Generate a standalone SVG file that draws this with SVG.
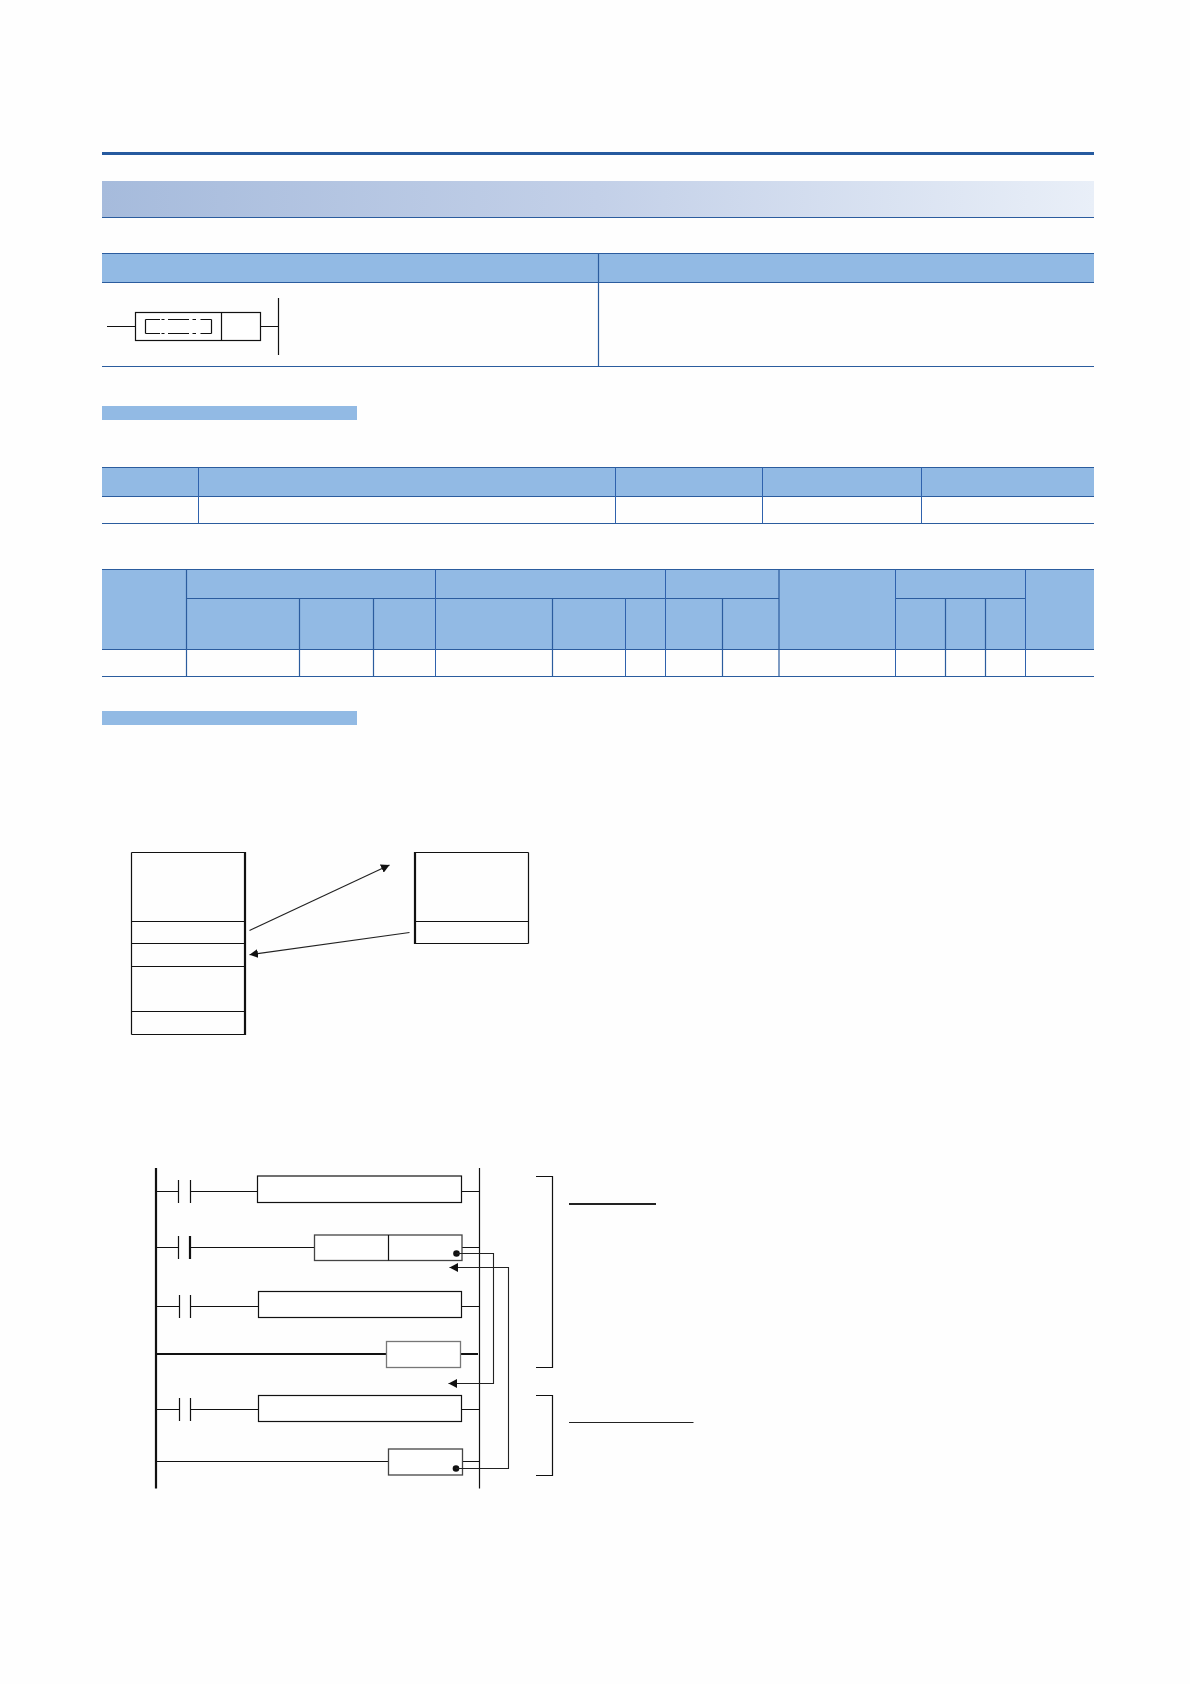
<svg xmlns="http://www.w3.org/2000/svg" width="1190" height="1684" viewBox="0 0 1190 1684">
<style>
.hdr{fill:#92bae4}
.tb{stroke:#2b5c9e;stroke-width:1.2;fill:none}
.tn{stroke:#2f62ad;stroke-width:1;fill:none}
.k{stroke:#111;stroke-width:1.2;fill:none}
.kt{stroke:#111;stroke-width:2.2;fill:none}
.box{stroke:#111;stroke-width:1.2;fill:#fff}
.gbox{stroke:#777;stroke-width:1.3;fill:#fff}
.dbox{stroke:#444;stroke-width:1.3;fill:#fff}
.c{stroke:#222;stroke-width:1.1;fill:none}
.dot{fill:#111}
</style>
<defs>
<linearGradient id="band" x1="0" y1="0" x2="1" y2="0">
<stop offset="0" stop-color="#a6bbdc"/>
<stop offset="0.5" stop-color="#c3d0e8"/>
<stop offset="1" stop-color="#e9eff8"/>
</linearGradient>
<marker id="arrow" markerUnits="userSpaceOnUse" markerWidth="9" markerHeight="9" refX="8.5" refY="4.5" orient="auto">
<path d="M0,0 L8.5,4.5 L0,9 Z" fill="#111"/>
</marker>
</defs>
<rect width="1190" height="1684" fill="#fefefe"/>

<g id="page-header">
<rect x="102" y="152" width="992" height="3" fill="#265a9f"/>
<rect x="102" y="181" width="992" height="36" fill="url(#band)"/>
<line x1="102" y1="217.5" x2="1094" y2="217.5" stroke="#2b5c9e" stroke-width="1"/>
</g>

<g id="table-format">
<rect class="hdr" x="102" y="253.5" width="992" height="29"/>
<path class="tb" d="M102 253.5H1094M102 282.5H1094M102 366.5H1094M598.5 253.5V366.5"/>
</g>

<g id="ladder-symbol">
<path class="k" d="M107 326.5H135.5M260.5 326.5H278.5M278.5 298V355"/>
<rect class="box" x="135.5" y="312.5" width="125" height="28"/>
<line class="k" x1="221.5" y1="312.5" x2="221.5" y2="340.5"/>
<path class="k" d="M145.5 319.5V333.5M211.5 319.5V333.5"/>
<path class="k" d="M145.5 319.5H160M161.5 319.5H164.5M168 319.5H189M192.5 319.5H196M200.5 319.5H211.5"/>
<path class="k" d="M145.5 333.5H160M161.5 333.5H164.5M168 333.5H189M192.5 333.5H196M200.5 333.5H211.5"/>
</g>

<g id="section-bar-1"><rect class="hdr" x="102" y="406" width="255" height="14"/></g>

<g id="table-operands">
<rect class="hdr" x="102" y="467.5" width="992" height="29"/>
<path class="tb" d="M102 467.5H1094M102 496.5H1094M102 523.5H1094"/>
<path class="tn" d="M198.5 467.5V523.5M615.5 467.5V523.5M762.5 467.5V523.5M921.5 467.5V523.5"/>
</g>

<g id="table-devices">
<rect class="hdr" x="102" y="569.5" width="992" height="80"/>
<path class="tb" d="M102 569.5H1094M102 649.5H1094M102 676.5H1094M186.5 598.5H779M895.5 598.5H1025.5"/>
<path class="tb" d="M186.5 569.5V676.5M779 569.5V676.5M299.5 598.5V676.5M373.5 598.5V676.5M552.5 598.5V676.5M722.5 598.5V676.5M945.5 598.5V676.5M985.5 598.5V676.5"/>
<path class="tn" d="M435.5 569.5V676.5M665.5 569.5V676.5M895.5 569.5V676.5M1025.5 569.5V676.5M625.5 598.5V676.5"/>
</g>

<g id="section-bar-2"><rect class="hdr" x="102" y="711" width="255" height="14"/></g>

<g id="stack-left">
<path class="k" d="M131.5 852.5H245M131.5 921.5H245M131.5 943.5H245M131.5 966.5H245M131.5 1011.5H245M131.5 1034.5H245M131.5 852.5V1034.5"/>
<line class="kt" x1="245" y1="852" x2="245" y2="1035"/>
</g>
<g id="stack-right">
<path class="k" d="M415 852.5H528.5M415 921.5H528.5M415 943.5H528.5M528.5 852.5V943.5"/>
<line class="kt" x1="415" y1="852" x2="415" y2="944"/>
</g>

<g id="ladder">
<path class="kt" d="M156 1168V1488.5"/>
<path class="k" d="M479.5 1168V1488.5"/>
<g id="rung-1">
<path class="k" d="M156 1191.5H178.5M190.5 1191.5H257.5M461.5 1191.5H479.5M178.5 1180V1203M190.5 1180V1203"/>
<rect class="box" x="257.5" y="1176" width="204" height="26.5"/>
</g>
<g id="rung-2">
<path class="k" d="M156 1247.5H178.5M190 1247.5H314.5M462 1247.5H479.5M178.5 1236V1259"/>
<line class="kt" x1="190" y1="1236" x2="190" y2="1259"/>
<rect class="dbox" x="314.5" y="1235" width="147.5" height="25.5"/>
<line class="k" x1="388.5" y1="1235" x2="388.5" y2="1260.5"/>
<circle class="dot" cx="456.5" cy="1253.5" r="3.3"/>
</g>
<g id="rung-3">
<path class="k" d="M156 1306.5H179.5M190.5 1306.5H258.5M461.5 1306.5H479.5M179.5 1295V1318M190.5 1295V1318"/>
<rect class="box" x="258.5" y="1291.5" width="203" height="26"/>
</g>
<g id="rung-4">
<path class="kt" d="M156 1354H387M460.5 1354H478"/>
<rect class="gbox" x="386.5" y="1341.5" width="74" height="26"/>
</g>
<g id="rung-5">
<path class="k" d="M156 1409.5H179.5M190.5 1409.5H258.5M461.5 1409.5H479.5M179.5 1398V1421M190.5 1398V1421"/>
<rect class="box" x="258.5" y="1395.5" width="203" height="26"/>
</g>
<g id="rung-6">
<path class="k" d="M156 1461.5H388.5M462.5 1461.5H479.5"/>
<rect class="dbox" x="388.5" y="1449" width="74" height="26"/>
<circle class="dot" cx="456" cy="1468.5" r="3.3"/>
</g>
</g>

<g id="brackets">
<path class="k" d="M536 1176.5H552.5V1367.5H536"/>
<path class="k" d="M536 1395.5H552.5V1475.5H536"/>
<line x1="569" y1="1204" x2="656" y2="1204" stroke="#222" stroke-width="2"/>
<line x1="569" y1="1422.5" x2="693.5" y2="1422.5" stroke="#222" stroke-width="1"/>
</g>

<g id="connectors">
<line class="c" x1="249.5" y1="930.5" x2="389.5" y2="865" marker-end="url(#arrow)"/>
<line class="c" x1="409.5" y1="932.5" x2="249.5" y2="954.7" marker-end="url(#arrow)"/>
<path class="c" d="M456.5 1253.5H493.5V1383.5H448.5" marker-end="url(#arrow)"/>
<path class="c" d="M456 1468.5H508.5V1267.5H449.5" marker-end="url(#arrow)"/>
</g>
</svg>
